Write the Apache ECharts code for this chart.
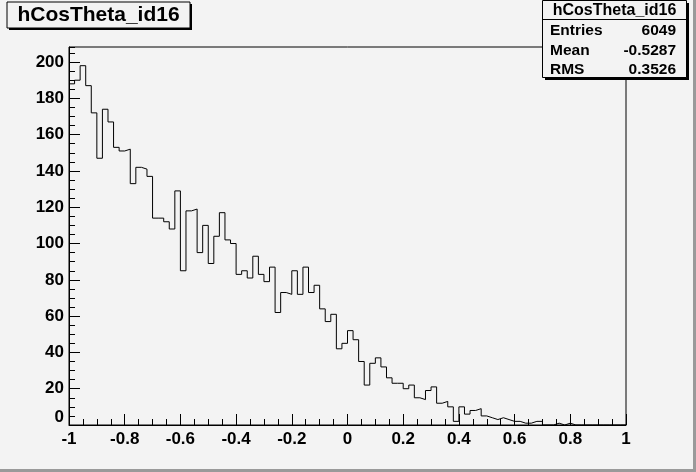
<!DOCTYPE html>
<html><head><meta charset="utf-8">
<script src="https://cdn.jsdelivr.net/npm/echarts@6.0.0/dist/echarts.min.js"></script>
<style>html,body{margin:0;padding:0;background:#f3f3f3}#c{width:696px;height:472px}</style>
</head><body><div id="c"></div>
<script>
// ---- data ----
const histTitle = 'hCosTheta_id16';
const xMin = -1, xMax = 1;
const yMin = 0, yMax = 208.3;
const counts = [
  188,190,198,187,172,147,174,167,153,151,
  152,133,142,141,137,114,114,112,108,129,
  85,118,119,95,110,89,104,117,102,100,
  83,85,81,93,83,79,87,62,73,72,
  85,72,87,73,77,64,57,61,42,45,
  52,47,35,22,34,37,32,26,23,23,
  20,22,15,14,19,21,12,13,10,2,
  10,6,8,9,5,4,3,4,3,2,
  2,1,1,2,2,0,0,1,0,1,
  0,0,0,0,0,0,0,0,0,0
];
const xTickLabels = ['-1','-0.8','-0.6','-0.4','-0.2','0','0.2','0.4','0.6','0.8','1'];
const yTickLabels = ['0','20','40','60','80','100','120','140','160','180','200'];
const statsNames = ['Entries','Mean','RMS'];
const statsValues = ['6049','-0.5287','0.3526'];

// ---- build ----
const binW = (xMax - xMin) / counts.length;
const stepData = counts.map((v, i) => [xMin + i * binW, v]);
stepData.push([xMax, counts[counts.length - 1]]);

const FONT = '"Liberation Sans", Arial, Helvetica, sans-serif';
const BG = '#f3f3f3';
const gridRect = {left: 69, top: 47, right: 70, bottom: 47};

const chart = echarts.init(document.getElementById('c'), null, {renderer: 'canvas'});

const labelStyle = {color: '#000', fontFamily: FONT, fontWeight: 'bold', fontSize: 17};

const graphics = [
  // pad border (bevel)
  {type: 'rect', shape: {x: 693, y: 0, width: 3, height: 472}, style: {fill: '#9a9a9a'}, silent: true},
  {type: 'rect', shape: {x: 0, y: 469, width: 696, height: 3}, style: {fill: '#9a9a9a'}, silent: true},
  // title box
  {type: 'rect', shape: {x: 9, y: 4, width: 183, height: 26}, style: {fill: '#000'}, z: 10},
  {type: 'rect', shape: {x: 7, y: 2, width: 183, height: 26}, style: {fill: BG, stroke: '#000', lineWidth: 1}, z: 11},
  {type: 'text', x: 98.5, y: 15.5, style: {text: histTitle, fill: '#000', font: 'bold 21px ' + FONT, textAlign: 'center', textVerticalAlign: 'middle'}, z: 12},
  // stats box
  {type: 'rect', shape: {x: 545, y: 3, width: 144, height: 77}, style: {fill: '#000'}, z: 10},
  {type: 'rect', shape: {x: 542.5, y: 0.5, width: 144, height: 77}, style: {fill: BG, stroke: '#000', lineWidth: 1}, z: 11},
  {type: 'line', shape: {x1: 542.5, y1: 19.5, x2: 686.5, y2: 19.5}, style: {stroke: '#000', lineWidth: 1}, z: 12},
  {type: 'text', x: 614.5, y: 11, style: {text: histTitle, fill: '#000', font: 'bold 16px ' + FONT, textAlign: 'center', textVerticalAlign: 'middle'}, z: 12}
];
statsNames.forEach((n, i) => {
  const yy = 31 + i * 19.5;
  graphics.push({type: 'text', x: 550, y: yy, style: {text: n, fill: '#000', font: 'bold 15.5px ' + FONT, textAlign: 'left', textVerticalAlign: 'middle'}, z: 12});
  graphics.push({type: 'text', x: 676, y: yy, style: {text: statsValues[i], fill: '#000', font: 'bold 15.5px ' + FONT, textAlign: 'right', textVerticalAlign: 'middle'}, z: 12});
});

chart.setOption({
  backgroundColor: BG,
  animation: false,
  grid: [
    Object.assign({show: true, backgroundColor: BG, borderColor: '#000', borderWidth: 1, containLabel: false}, gridRect),
    Object.assign({show: false, containLabel: false}, gridRect)
  ],
  xAxis: [
    {
      type: 'value', gridIndex: 0, min: xMin, max: xMax, interval: 0.2,
      axisLine: {show: true, onZero: false, lineStyle: {color: '#000', width: 1}},
      axisTick: {show: true, inside: true, length: 11, lineStyle: {color: '#000', width: 1}},
      minorTick: {show: true, splitNumber: 4, length: 6, lineStyle: {color: '#000', width: 1}},
      axisLabel: Object.assign({margin: 6, formatter: (v, i) => xTickLabels[i]}, labelStyle),
      splitLine: {show: false}
    },
    {
      type: 'value', gridIndex: 1, min: xMin, max: xMax, show: false
    }
  ],
  yAxis: [
    {
      type: 'value', gridIndex: 0, min: yMin, max: yMax, interval: 20,
      axisLine: {show: true, onZero: false, lineStyle: {color: '#000', width: 1}},
      axisTick: {show: true, inside: true, length: 11, lineStyle: {color: '#000', width: 1}},
      axisLabel: Object.assign({
        margin: 5, showMaxLabel: false,
        formatter: (v, i) => (i === 0 ? '{z|' + yTickLabels[i] + '}' : (yTickLabels[i] || '')),
        rich: {z: Object.assign({padding: [0, 0, 16, 0]}, labelStyle)}
      }, labelStyle),
      splitLine: {show: false}
    },
    {
      type: 'value', gridIndex: 1, min: yMin, max: yMax, interval: 5,
      axisLine: {show: false, onZero: false},
      axisTick: {show: true, inside: true, length: 6, lineStyle: {color: '#000', width: 1}},
      axisLabel: {show: false},
      splitLine: {show: false}
    }
  ],
  series: [{
    type: 'line', xAxisIndex: 0, yAxisIndex: 0,
    data: stepData, step: 'end', symbol: 'none', clip: true,
    lineStyle: {color: '#000', width: 1}, silent: true
  }],
  graphic: graphics
});
</script>
</body></html>
